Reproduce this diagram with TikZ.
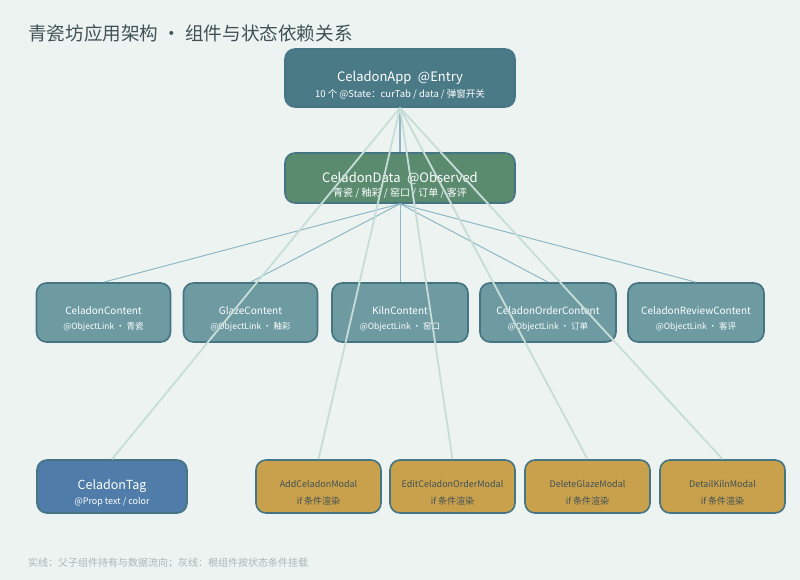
\documentclass[tikz,border=0pt]{standalone}
\usepackage{fontspec}
\setmainfont{Noto Sans CJK SC}
\definecolor{bgcol}{HTML}{EDF3F1}
\definecolor{titlecol}{HTML}{3F5257}
\definecolor{appcol}{HTML}{4B7A87}
\definecolor{datacol}{HTML}{5B8B6F}
\definecolor{contcol}{HTML}{6E9AA2}
\definecolor{tagcol}{HTML}{4F7CA8}
\definecolor{modalcol}{HTML}{C9A04B}
\definecolor{edgecol}{HTML}{457583}
\definecolor{flowcol}{HTML}{8EB8C5}
\definecolor{mountcol}{HTML}{C7DDD8}
\definecolor{notecol}{HTML}{A9B7B7}
\tikzset{
  box/.style={draw=edgecol, line width=1.6pt, rounded corners=10pt},
  bigtxt/.style={text=white, font=\fontsize{13}{15}\selectfont, inner sep=0pt},
  midtxt/.style={text=white, font=\fontsize{10}{12}\selectfont, inner sep=0pt},
  smalltxt/.style={text=white, font=\fontsize{8.5}{10}\selectfont, inner sep=0pt},
  flow/.style={draw=flowcol, line width=1pt},
  mount/.style={draw=mountcol, line width=1.8pt}
}
\begin{document}
\begin{tikzpicture}[x=1pt, y=-1pt]
  % Fond
  \fill[bgcol] (0,0) rectangle (800,580);
  \useasboundingbox (0,0) rectangle (800,580);
  % Titre
  \node[anchor=west, text=titlecol, font=\fontsize{18.6}{21}\selectfont, inner sep=0pt] (title) at (28,33) {青瓷坊应用架构 · 组件与状态依赖关系};
  % Racine
  \node[box, fill=appcol, minimum width=230pt, minimum height=58pt] (app) at (400,78) {};
  \node[bigtxt] (app-t) at (400,78) {CeladonApp\enspace @Entry};
  \node[smalltxt, font=\fontsize{9.5}{11}\selectfont] (app-s) at (400,94) {10 个 @State：curTab / data / 弹窗开关};
  % Données observées
  \node[box, fill=datacol, minimum width=230pt, minimum height=50pt] (data) at (400,178) {};
  \node[bigtxt] (data-t) at (400,178) {CeladonData\enspace @Observed};
  \node[smalltxt, font=\fontsize{10}{12}\selectfont] (data-s) at (400,193) {青瓷 / 釉彩 / 窑口 / 订单 / 客评};
  % Sous-composants
  \foreach \x/\w/\name/\sub [count=\i] in {103.5/134/CeladonContent/青瓷, 250.5/134/GlazeContent/釉彩, 400/136/KilnContent/窑口, 548/136/CeladonOrderContent/订单, 696/136/CeladonReviewContent/客评} {
    \node[box, fill=contcol, minimum width=\w pt, minimum height=59pt] (c\i) at (\x,312.5) {};
    \node[midtxt] (c\i-t) at (\x,311) {\name};
    \node[smalltxt] (c\i-s) at (\x,327) {@ObjectLink · \sub};
  }
  % Tag
  \node[box, fill=tagcol, minimum width=150pt, minimum height=53pt] (tag) at (112,486.5) {};
  \node[text=white, font=\fontsize{12.5}{14}\selectfont, inner sep=0pt] (tag-t) at (112,486) {CeladonTag};
  \node[smalltxt, font=\fontsize{9}{11}\selectfont] (tag-s) at (112,502) {@Prop text / color};
  % Modales
  \foreach \x/\name [count=\i] in {318.5/AddCeladonModal, 452.5/EditCeladonOrderModal, 587.5/DeleteGlazeModal, 722.5/DetailKilnModal} {
    \node[box, fill=modalcol, minimum width=125pt, minimum height=53pt] (m\i) at (\x,486.5) {};
    \node[text=titlecol, font=\fontsize{9}{11}\selectfont, inner sep=0pt] (m\i-t) at (\x,484) {\name};
    \node[text=titlecol, font=\fontsize{9}{11}\selectfont, inner sep=0pt] (m\i-s) at (\x,501) {if 条件渲染};
  }
  % Flux de données
  \draw[flow, line width=1.8pt] (app.south) -- (data.north);
  \foreach \i in {1,...,5}
    \draw[flow] (data.south) -- (c\i.north);
  % Montage conditionnel
  \draw[mount] (app.south) -- (tag.north);
  \foreach \i in {1,...,4}
    \draw[mount] (app.south) -- (m\i.north);
  % Légende
  \node[anchor=west, text=notecol, font=\fontsize{10}{12}\selectfont, inner sep=0pt] (note) at (28,563) {实线：父子组件持有与数据流向；灰线：根组件按状态条件挂载};
\end{tikzpicture}
\end{document}
